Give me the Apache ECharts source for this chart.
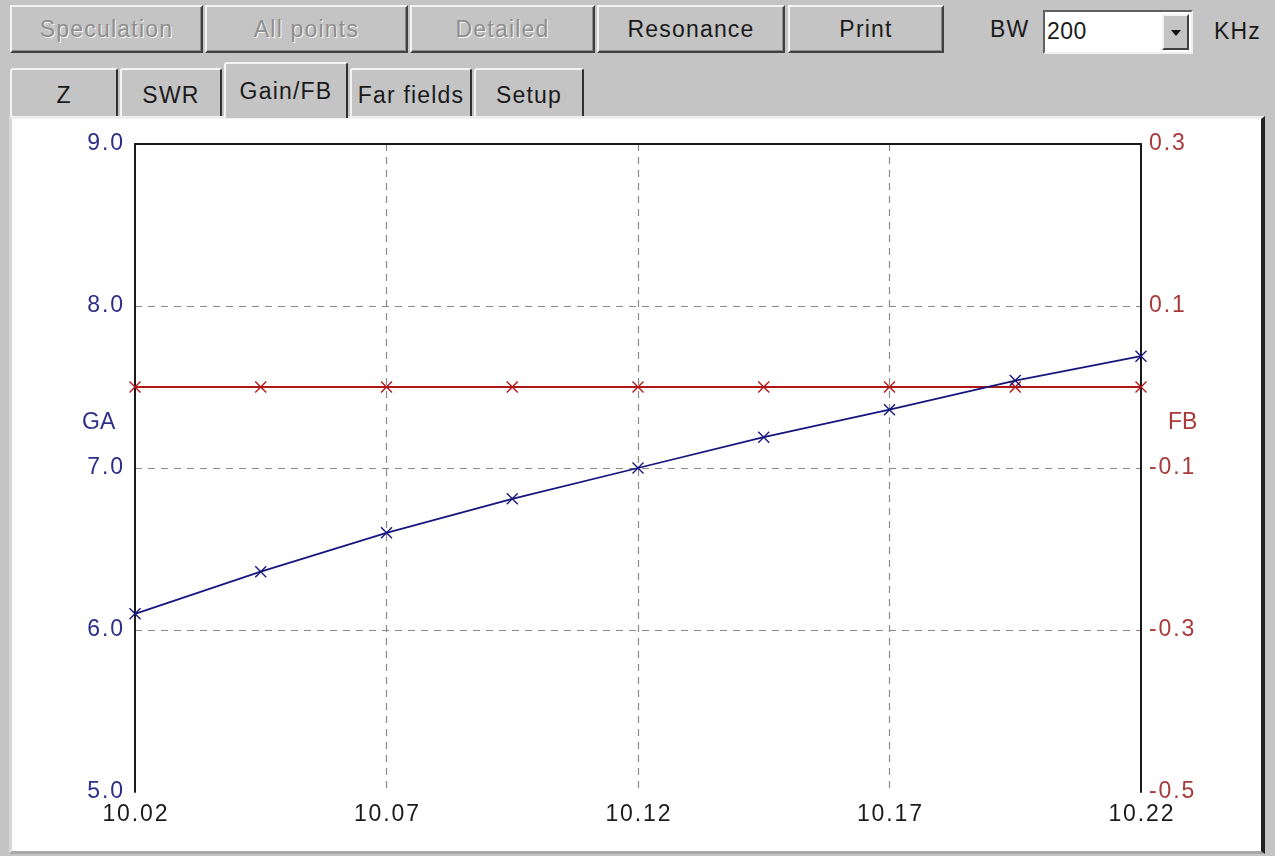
<!DOCTYPE html>
<html>
<head>
<meta charset="utf-8">
<script src="https://cdn.jsdelivr.net/npm/echarts@6/dist/echarts.min.js"></script>
<style>
  html, body { margin:0; padding:0; width:1275px; height:856px; background:#c4c4c4; overflow:hidden;
    font-family:"Liberation Sans", Arial, sans-serif; }
  .btn { position:absolute; top:5px; height:48px; box-sizing:border-box; background:#c4c4c4;
    border-top:2px solid #f4f4f4; border-left:2px solid #f4f4f4; border-right:2px solid #404040; border-bottom:2px solid #404040;
    box-shadow: inset -1px -1px 0 #8a8a8a; font-size:23px; letter-spacing:1.2px; color:#1a1a1a; display:flex; align-items:center; justify-content:center; }
  .dis { color:#8e8e8e; text-shadow:1px 1px 0 #f6f6f6; }
  .tab { position:absolute; top:68px; height:48px; box-sizing:border-box; background:#c4c4c4;
    border-top:2px solid #f4f4f4; border-left:2px solid #f4f4f4; border-right:2px solid #303030;
    border-top-left-radius:3px; border-top-right-radius:3px;
    font-size:23px; letter-spacing:1.2px; color:#1a1a1a; display:flex; align-items:center; justify-content:center; padding-top:4px; }
  .tab.active { top:62px; height:56px; z-index:3; padding-top:0px; }
  .lbl { position:absolute; font-size:23px; letter-spacing:1.2px; color:#1a1a1a; }
  #panel { position:absolute; left:9px; top:116px; width:1256px; height:738px; box-sizing:border-box; background:#ffffff;
    border-top:3px solid #eeeeee; border-left:3px solid #d8d8d8; border-right:4px solid #202020; border-bottom:3px solid #a8a8a8; }
  #combo { position:absolute; left:1043px; top:10px; width:150px; height:44px; box-sizing:border-box; background:#fff;
    border-top:2px solid #606060; border-left:2px solid #606060; border-right:2px solid #f0f0f0; border-bottom:2px solid #f0f0f0; }
  #combo .val { position:absolute; left:2px; top:6px; font-size:23px; letter-spacing:0.5px; color:#1a1a1a; }
  #combo .arr { position:absolute; right:2px; top:2px; width:27px; height:36px; box-sizing:border-box; background:#c4c4c4;
    border-top:2px solid #f4f4f4; border-left:2px solid #f4f4f4; border-right:2px solid #404040; border-bottom:2px solid #404040; }
  #combo .arr:after { content:""; position:absolute; left:7px; top:14px; border-left:5px solid transparent; border-right:5px solid transparent; border-top:6px solid #111; }
  #chart { position:absolute; left:0; top:0; width:1275px; height:856px; z-index:5; }
</style>
</head>
<body>
<div class="btn dis" style="left:10px;width:193px;">Speculation</div>
<div class="btn dis" style="left:205px;width:203px;">All points</div>
<div class="btn dis" style="left:410px;width:185px;">Detailed</div>
<div class="btn" style="left:597px;width:188px;">Resonance</div>
<div class="btn" style="left:788px;width:156px;">Print</div>
<div class="lbl" style="left:990px;top:16px;">BW</div>
<div id="combo"><span class="val">200</span><div class="arr"></div></div>
<div class="lbl" style="left:1214px;top:18px;">KHz</div>

<div class="tab" style="left:10px;width:108px;">Z</div>
<div class="tab" style="left:120px;width:102px;">SWR</div>
<div class="tab active" style="left:224px;width:124px;">Gain/FB</div>
<div class="tab" style="left:350px;width:122px;">Far fields</div>
<div class="tab" style="left:474px;width:110px;">Setup</div>

<div id="panel"></div>
<div id="chart"></div>
<script>
// Frequencies (MHz)
const freqs = ['10.02','10.045','10.07','10.095','10.12','10.145','10.17','10.195','10.22'];
// Gain (GA, dBi) - left axis
const gainValues = [6.10, 6.36, 6.60, 6.81, 7.00, 7.19, 7.36, 7.54, 7.69];
// Front/back (FB, dB) - right axis
const fbValues = [0.0, 0.0, 0.0, 0.0, 0.0, 0.0, 0.0, 0.0, 0.0];
// Axis ranges
const gaRange = [5, 9];
const fbRange = [-0.5, 0.3];

const FONT = '"Liberation Sans", Arial, sans-serif';
const BLUE = '#16167e';
const RED = '#b01818';
const crossPath = 'path://M0,0L10,10M10,0L0,10';
const labelFont = { fontSize:23, fontFamily:FONT };

const chart = echarts.init(document.getElementById('chart'), null, {renderer:'canvas'});
chart.setOption({
  animation: false,
  grid: { left:135, top:144, right:134, bottom:64, containLabel:false },
  xAxis: [{
    type:'category', data:freqs, boundaryGap:false, position:'bottom',
    axisLine:{ show:true, lineStyle:{ color:'#1a1a1a', width:2 } },
    axisTick:{ show:false },
    axisLabel:Object.assign({ interval:1, color:'#1a1a1a', margin:11,
      formatter: v => v.split('').join('\u200A') }, labelFont),
    splitLine:{ show:true, interval:1, showMinLine:false, showMaxLine:false,
      lineStyle:{ color:'#8a8a8a', type:[7,6], width:1.2 } }
  },{
    type:'category', data:freqs, boundaryGap:false, position:'top',
    axisLine:{ show:true, lineStyle:{ color:'#1a1a1a', width:2 } },
    axisTick:{ show:false }, axisLabel:{ show:false }, splitLine:{ show:false }
  }],
  yAxis: [{
    type:'value', min:gaRange[0], max:gaRange[1], interval:1, position:'left',
    axisLine:{ show:true, lineStyle:{ color:'#1a1a1a', width:2 } },
    axisTick:{ show:false },
    axisLabel:Object.assign({ color:'#2e2e8a', margin:12,
      formatter: v => v.toFixed(1).split('').join('\u200A') }, labelFont),
    splitLine:{ show:true, showMinLine:false, showMaxLine:false,
      lineStyle:{ color:'#8a8a8a', type:[7,6], width:1.2 } }
  },{
    type:'value', min:fbRange[0], max:fbRange[1], interval:0.1, position:'right', alignTicks:false,
    axisLine:{ show:true, lineStyle:{ color:'#1a1a1a', width:2 } },
    axisTick:{ show:false },
    axisLabel:Object.assign({ color:'#a83a3a', margin:8,
      formatter: v => { const k = Math.round((v - fbRange[0]) * 10); return k % 2 === 0 ? v.toFixed(1).split('').join('\u200A') : ''; } }, labelFont),
    splitLine:{ show:false }
  }],
  graphic: [
    { type:'text', left:82, top:411, style:{ text:'GA', fill:'#2e2e8a', font:'23px ' + FONT } },
    { type:'text', left:1168, top:411, style:{ text:'FB', fill:'#a83a3a', font:'23px ' + FONT } }
  ],
  series: [{
    name:'FB', type:'line', xAxisIndex:0, yAxisIndex:1, data:fbValues,
    symbol:crossPath, symbolSize:11, showAllSymbol:true,
    lineStyle:{ color:RED, width:1.8 },
    itemStyle:{ color:'rgba(0,0,0,0)', borderColor:RED, borderWidth:1.4 },
    z:3
  },{
    name:'GA', type:'line', xAxisIndex:0, yAxisIndex:0, data:gainValues,
    symbol:crossPath, symbolSize:11, showAllSymbol:true,
    lineStyle:{ color:BLUE, width:1.8 },
    itemStyle:{ color:'rgba(0,0,0,0)', borderColor:BLUE, borderWidth:1.4 },
    z:4
  }]
});
</script>
</body>
</html>
